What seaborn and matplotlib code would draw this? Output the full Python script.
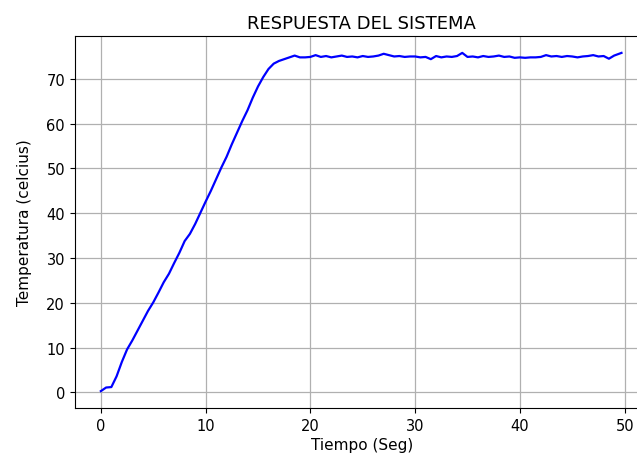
import matplotlib
matplotlib.use("Agg")
import matplotlib.pyplot as plt
import seaborn as sns
import pandas as pd

# Sampled time (s) and measured temperature (°C)
tiempo = [
    0.0, 0.5, 1.0, 1.5, 2.0, 2.5, 3.0, 3.5, 4.0, 4.5,
    5.0, 5.5, 6.0, 6.5, 7.0, 7.5, 8.0, 8.5, 9.0, 9.5,
    10.0, 10.5, 11.0, 11.5, 12.0, 12.5, 13.0, 13.5, 14.0, 14.5,
    15.0, 15.5, 16.0, 16.5, 17.0, 17.5, 18.0, 18.5, 19.0, 19.5,
    20.0, 20.5, 21.0, 21.5, 22.0, 22.5, 23.0, 23.5, 24.0, 24.5,
    25.0, 25.5, 26.0, 26.5, 27.0, 27.5, 28.0, 28.5, 29.0, 29.5,
    30.0, 30.5, 31.0, 31.5, 32.0, 32.5, 33.0, 33.5, 34.0, 34.5,
    35.0, 35.5, 36.0, 36.5, 37.0, 37.5, 38.0, 38.5, 39.0, 39.5,
    40.0, 40.5, 41.0, 41.5, 42.0, 42.5, 43.0, 43.5, 44.0, 44.5,
    45.0, 45.5, 46.0, 46.5, 47.0, 47.5, 48.0, 48.5, 49.0, 49.7,
]
temperatura = [
    0.3, 1.1, 1.2, 3.6, 6.8, 9.6, 11.6, 13.8, 16.0, 18.2,
    20.1, 22.3, 24.6, 26.5, 28.9, 31.2, 33.8, 35.4, 37.6, 40.1,
    42.6, 45.0, 47.6, 50.2, 52.6, 55.4, 58.0, 60.6, 63.0, 65.8,
    68.3, 70.4, 72.2, 73.4, 74.0, 74.4, 74.8, 75.2, 74.8, 74.8,
    74.9, 75.3, 74.9, 75.1, 74.8, 75.0, 75.2, 74.9, 75.0, 74.8,
    75.1, 74.9, 75.0, 75.2, 75.6, 75.3, 75.0, 75.1, 74.9, 75.0,
    75.0, 74.8, 74.9, 74.4, 75.1, 74.8, 75.0, 74.9, 75.1, 75.8,
    74.9, 75.0, 74.8, 75.1, 74.9, 75.0, 75.2, 74.9, 75.0, 74.7,
    74.8, 74.7, 74.8, 74.8, 74.9, 75.3, 75.0, 75.1, 74.9, 75.1,
    75.0, 74.8, 75.0, 75.1, 75.3, 75.0, 75.1, 74.5, 75.2, 75.8,
]

df = pd.DataFrame({"Tiempo": tiempo, "Temperatura": temperatura})

fig = plt.figure(figsize=(6.37, 4.64), dpi=100)
# the plotting area runs a little past the right edge of the canvas
ax = fig.add_axes([0.1174, 0.1185, 0.901, 0.8018])

sns.lineplot(data=df, x="Tiempo", y="Temperatura", color="b",
             linewidth=1.6, ax=ax)

ax.grid(True, color="#b0b0b0", linewidth=0.9)
ax.set_axisbelow(True)
ax.set_xlim(-2.49, 52.3)
ax.set_title("RESPUESTA DEL SISTEMA", fontsize=13)
ax.set_xlabel("Tiempo (Seg)", fontsize=11, labelpad=3)
ax.set_ylabel("Temperatura (celcius)", fontsize=11, labelpad=10)
ax.tick_params(labelsize=10.5)

fig.savefig("out.png", dpi=100)
